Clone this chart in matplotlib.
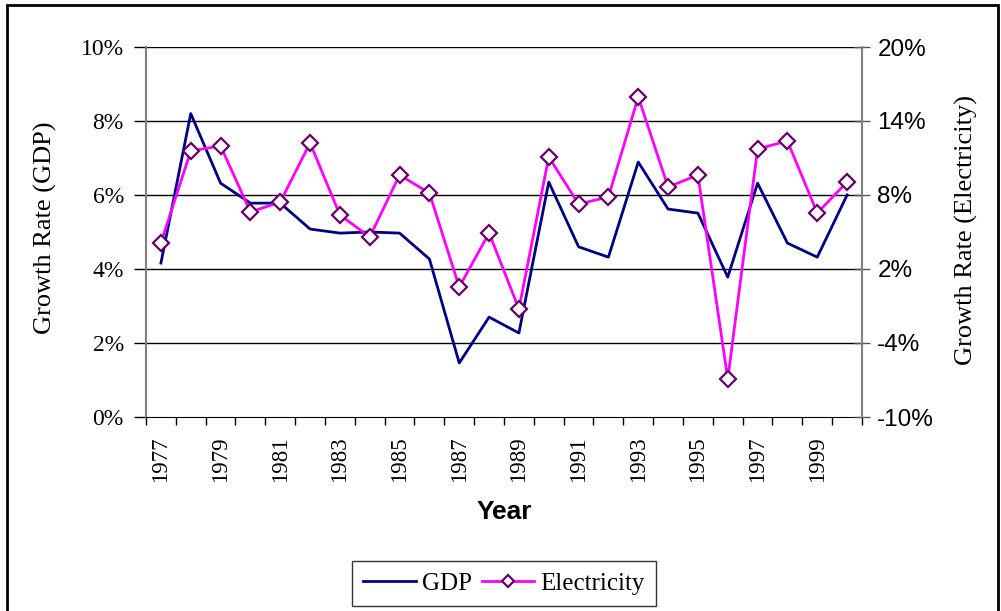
import matplotlib
matplotlib.use("Agg")
import matplotlib.pyplot as plt
from matplotlib.patches import Rectangle
from matplotlib.ticker import FixedLocator, FuncFormatter

years = list(range(1977, 2001))
gdp = [4.16, 8.20, 6.32, 5.78, 5.78, 5.08, 4.97, 5.00, 4.97, 4.27, 1.46, 2.70,
       2.27, 6.35, 4.60, 4.32, 6.89, 5.62, 5.51, 3.78, 6.32, 4.70, 4.32, 6.00]
electricity = [4.11, 11.57, 11.98, 6.62, 7.43, 12.22, 6.38, 4.60, 9.62, 8.16, 0.54, 4.92,
               -1.24, 11.08, 7.27, 7.84, 15.95, 8.65, 9.62, -6.92, 11.73, 12.38, 6.54, 9.06]
left_ticks = [0, 2, 4, 6, 8, 10]
right_ticks = [-10, -4, 2, 8, 14, 20]

serif = ["Liberation Serif", "DejaVu Serif"]
sans = ["Liberation Sans", "DejaVu Sans"]
plt.rcParams["font.family"] = serif

W, H = 1001, 611
fig = plt.figure(figsize=(W/100, H/100), dpi=100)
ax = fig.add_axes([146/W, 1-417/H, (862-146)/W, (417-47)/H])
ax2 = ax.twinx()

x = list(range(len(years)))
l1, = ax.plot(x, gdp, color="#000080", lw=2, label="GDP")
l2, = ax2.plot(x, electricity, color="#FF00FF", lw=2, marker="D", markersize=8,
               markerfacecolor="white", markeredgecolor="#660066", markeredgewidth=1.6,
               label="Electricity")

ax.set_xlim(-0.5, len(years) - 0.5)
ax.set_ylim(0, 10)
ax2.set_ylim(-10, 20)

for t in left_ticks[1:]:
    ax.axhline(t, color="black", lw=1, zorder=0)

ax.set_yticks(left_ticks)
ax.set_yticklabels([f"{t}%" for t in left_ticks])
for lab in ax.get_yticklabels():
    lab.set_family(serif)
    lab.set_fontsize(17)
ax2.set_yticks(right_ticks)
ax2.set_yticklabels([f"{t}%" for t in right_ticks])
for lab in ax2.get_yticklabels():
    lab.set_family(sans)
    lab.set_fontsize(17.5)

ax.xaxis.set_major_locator(FixedLocator([i - 0.5 for i in range(len(years) + 1)]))
ax.xaxis.set_major_formatter(FuncFormatter(lambda v, p: ""))
ax.xaxis.set_minor_locator(FixedLocator(x[::2]))
ax.xaxis.set_minor_formatter(FuncFormatter(lambda v, p: str(years[int(round(v))])))
ax.tick_params(axis="x", which="major", direction="out", length=6, width=1, color="black")
ax.tick_params(axis="x", which="minor", length=0, pad=14)
for lab in ax.xaxis.get_minorticklabels():
    lab.set_rotation(90)
    lab.set_family(serif)
    lab.set_fontsize(16.5)

ax.tick_params(axis="y", direction="out", length=9, width=1, color="black", pad=7)
ax2.tick_params(axis="y", direction="inout", length=12, width=1, color="#555555", pad=5)

for a in (ax, ax2):
    a.spines["top"].set_visible(False)
ax.spines["right"].set_visible(False)
ax2.spines["left"].set_visible(False)
ax2.spines["bottom"].set_visible(False)
ax.spines["left"].set_color("#808080")
ax.spines["left"].set_linewidth(1.5)
ax2.spines["right"].set_color("#808080")
ax2.spines["right"].set_linewidth(1.5)
ax.spines["bottom"].set_color("black")

fig.text(45/W, 1-228/H, "Growth Rate (GDP)", family=serif, fontsize=19,
         rotation=90, ha="center", va="center")
fig.text(966/W, 1-230/H, "Growth Rate (Electricity)", family=serif, fontsize=19,
         rotation=90, ha="center", va="center")
fig.text(504/W, 1-512/H, "Year", family=sans, fontsize=19, fontweight="bold",
         ha="center", va="center")

leg = fig.legend(handles=[l1, l2], loc="center", bbox_to_anchor=(504/W, 1-583.5/H),
                 ncol=2, frameon=True, fancybox=False, edgecolor="black",
                 prop={"family": serif, "size": 18}, handlelength=2.1,
                 columnspacing=0.4, handletextpad=0.25, borderpad=0.45,
                 borderaxespad=0)
leg.get_frame().set_linewidth(1)
for h in leg.legend_handles:
    try:
        h.set_markersize(6)
    except Exception:
        pass

fig.patches.append(Rectangle((7/W, -0.1), (998-7)/W, 1.1 - 5/H,
                             transform=fig.transFigure, fill=False,
                             edgecolor="black", lw=2))

fig.savefig("out.png", dpi=100)
